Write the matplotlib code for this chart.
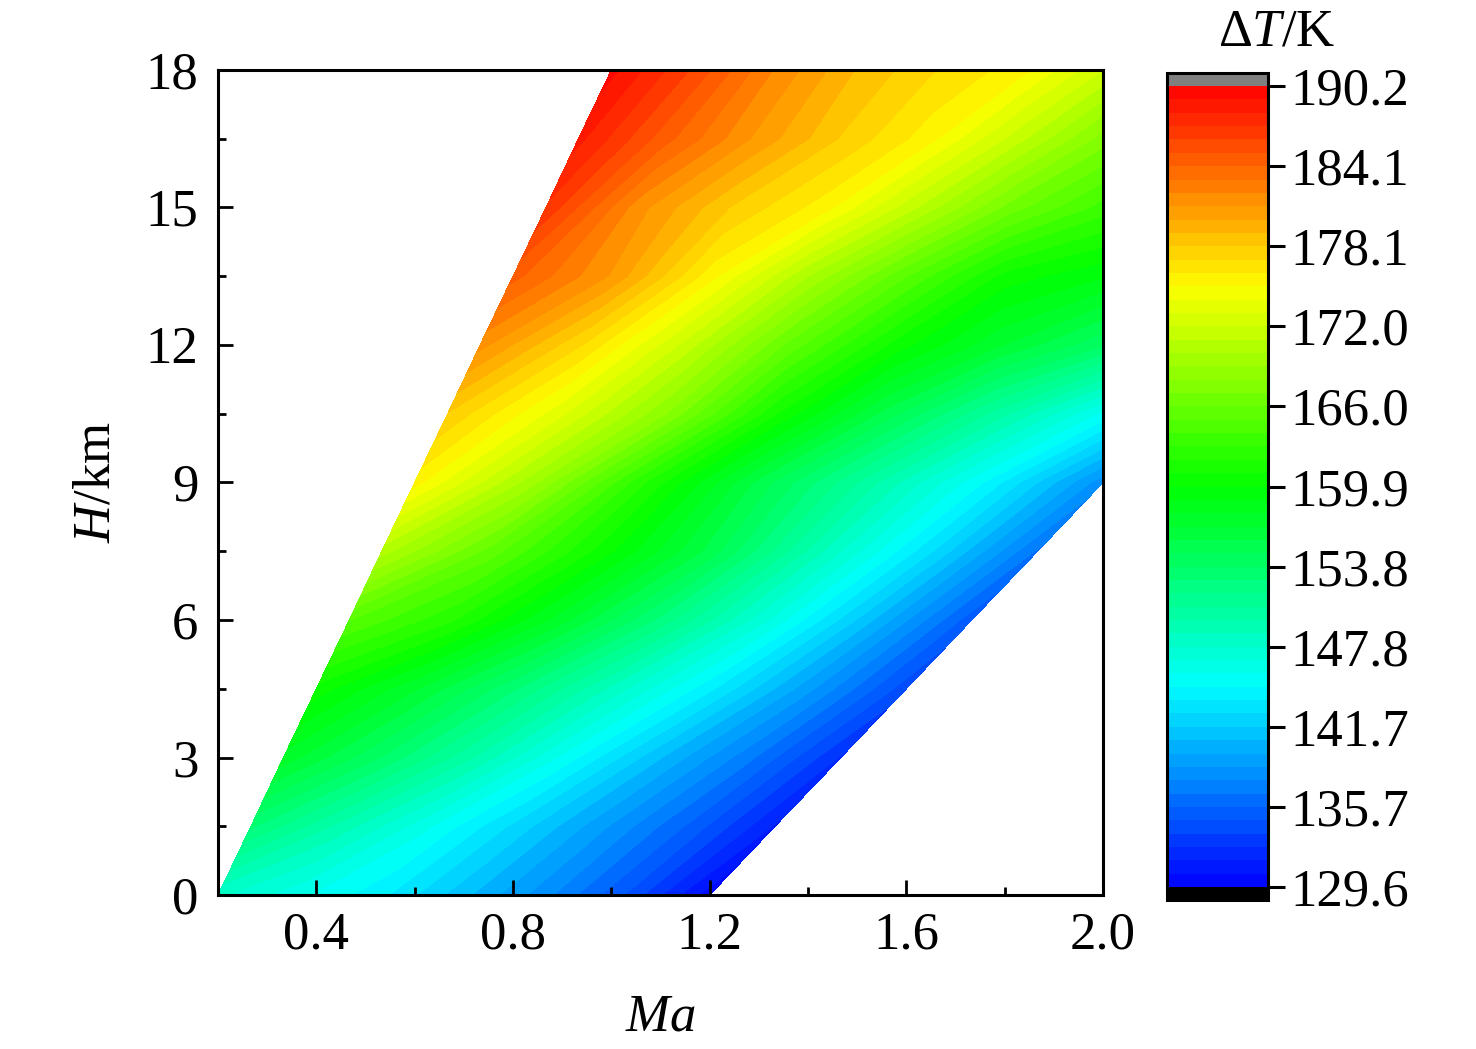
import numpy as np
import matplotlib
matplotlib.use('Agg')
import matplotlib.pyplot as plt
from matplotlib.colors import LinearSegmentedColormap
from matplotlib.ticker import MultipleLocator, FormatStrFormatter

plt.rcParams['font.family'] = ['Liberation Serif', 'DejaVu Serif']
plt.rcParams['mathtext.fontset'] = 'custom'
plt.rcParams['mathtext.rm'] = 'Liberation Serif'
plt.rcParams['mathtext.it'] = 'Liberation Serif:italic'

# altitude rows (km) and Mach range covered on each row
h_rows = [0.0, 1.5, 3.0, 4.5, 6.0, 7.5, 9.0, 10.5, 12.0, 13.5, 15.0, 16.5, 18.0]
ma_lo = [0.200, 0.267, 0.333, 0.400, 0.467, 0.533, 0.600, 0.667, 0.733, 0.800, 0.867, 0.933, 1.000]
ma_hi = [1.200, 1.333, 1.467, 1.600, 1.733, 1.867, 2.000, 2.000, 2.000, 2.000, 2.000, 2.000, 2.000]

# temperature rise (K), 7 evenly spaced Mach points per row from ma_lo to ma_hi
dT = [
    [148.0, 146.0, 144.0, 141.0, 138.0, 134.5, 130.0],
    [153.0, 149.5, 146.0, 142.5, 139.0, 135.5, 131.5],
    [157.5, 154.0, 150.0, 145.5, 141.0, 137.0, 132.5],
    [160.5, 157.0, 153.0, 148.5, 144.0, 139.0, 134.0],
    [165.0, 162.0, 157.5, 152.5, 147.0, 141.0, 135.0],
    [170.5, 165.5, 160.5, 155.5, 149.0, 143.0, 136.5],
    [175.5, 169.5, 162.0, 155.5, 150.0, 144.5, 138.0],
    [178.0, 173.5, 168.0, 161.0, 155.5, 150.5, 145.5],
    [181.5, 177.0, 171.5, 165.5, 160.5, 157.0, 154.0],
    [184.5, 181.0, 175.5, 170.0, 165.0, 160.5, 159.0],
    [187.0, 181.5, 178.0, 175.5, 171.0, 166.5, 163.5],
    [188.5, 184.5, 181.0, 178.0, 175.5, 171.5, 167.5],
    [189.5, 186.0, 182.0, 179.0, 177.0, 175.5, 172.0],
]

t_min, t_max = 129.6, 190.2
n_bands = 60

h = np.array(h_rows)
lo = np.array(ma_lo)
hi = np.array(ma_hi)
T = np.array(dT)
frac = np.linspace(0.0, 1.0, T.shape[1])
MA = lo[:, None] + (hi - lo)[:, None] * frac[None, :]
HH = np.repeat(h[:, None], T.shape[1], axis=1)

cmap = LinearSegmentedColormap.from_list(
    'rainbow_origin',
    [(0.0, '#0000ff'), (0.25, '#00ffff'), (0.5, '#00ff00'),
     (0.75, '#ffff00'), (1.0, '#ff0000')])
cmap.set_over('#808080')
cmap.set_under('#000000')

levels = np.linspace(t_min, t_max, n_bands + 1)

fig = plt.figure(figsize=(14.76, 10.49), dpi=100)
ax = fig.add_axes([0.1477, 0.1468, 0.5996, 0.7865])
cf = ax.contourf(MA, HH, T, levels=levels, cmap=cmap, extend='both')

ax.set_xlim(0.2, 2.0)
ax.set_ylim(0, 18)
ax.xaxis.set_minor_locator(MultipleLocator(0.2))
ax.set_xticks([0.4, 0.8, 1.2, 1.6, 2.0])
ax.xaxis.set_major_formatter(FormatStrFormatter('%.1f'))
ax.yaxis.set_major_locator(MultipleLocator(3))
ax.yaxis.set_minor_locator(MultipleLocator(1.5))
ax.tick_params(which='both', direction='in', width=2, labelsize=38)
ax.tick_params(which='major', length=11)
ax.tick_params(which='minor', length=5.5)
ax.tick_params(axis='x', pad=12)
ax.tick_params(axis='y', pad=14)
for sp in ax.spines.values():
    sp.set_linewidth(2.2)

ax.set_xlabel('$Ma$', fontsize=38, labelpad=24)
ax.set_ylabel('$H$/km', fontsize=38, labelpad=18)

cax = fig.add_axes([0.7907, 0.142, 0.0684, 0.7884])
ticks = np.linspace(t_min, t_max, 11)
cb = fig.colorbar(cf, cax=cax, extend='both', extendrect=True,
                  extendfrac=0.0163, ticks=ticks)
cb.minorticks_off()
cb.ax.yaxis.set_major_formatter(FormatStrFormatter('%.1f'))
cb.ax.tick_params(direction='out', length=12, width=2.2, labelsize=38, pad=4)
cb.outline.set_linewidth(2.2)

fig.text(1277 / 1476, 1 - 32 / 1049, 'Δ$T$/K', fontsize=38,
         ha='center', va='center')

fig.savefig('out.png', dpi=100)
